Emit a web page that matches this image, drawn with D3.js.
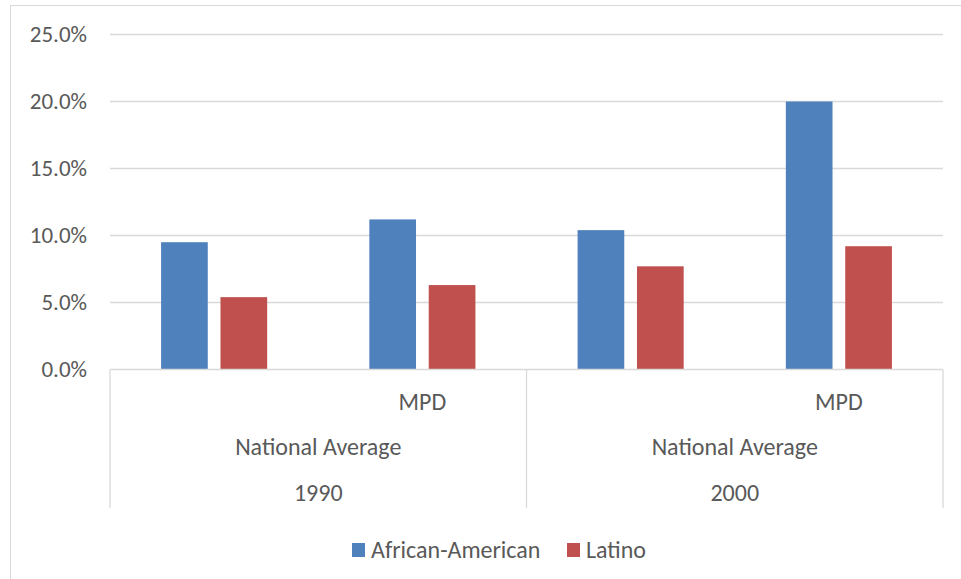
<!DOCTYPE html>
<html>
<head>
<meta charset="utf-8">
<script src="https://cdn.jsdelivr.net/npm/d3@7"></script>
<style>
  html, body { margin: 0; padding: 0; background: #fff; }
  svg { display: block; }
  text { font-family: Carlito, "Liberation Sans Narrow", "Open Sans", sans-serif; fill: #595959; }
</style>
</head>
<body>
<svg id="chart" width="961" height="579"></svg>
<script>
// ---- data ----
const categories = ["1990 National Average", "1990 MPD", "2000 National Average", "2000 MPD"];
const series = ["African-American", "Latino"];
const africanAmerican = [0.095, 0.112, 0.104, 0.200];
const latino = [0.054, 0.063, 0.077, 0.092];
const yTicks = [0, 0.05, 0.10, 0.15, 0.20, 0.25];
const subLabels = ["", "MPD", "", "MPD"];
const midLabels = ["National Average", "National Average"];
const years = ["1990", "2000"];
const colors = ["#4f81bd", "#c0504d"];

(function () {
const svg = d3.select("#chart");
const pLeft = 110, pRight = 943, pTop = 34.5, pBottom = 369.5;

// chart frame
svg.append("rect").attr("x", 10.5).attr("y", 5.5).attr("width", 960).attr("height", 600)
  .attr("fill", "#fff").attr("stroke", "#d9d9d9").attr("stroke-width", 1);

const y = d3.scaleLinear().domain([0, 0.25]).range([pBottom, pTop]);
const x0 = d3.scaleBand().domain(categories).range([pLeft, pRight]).paddingInner(0).paddingOuter(0);
const x1 = d3.scaleBand().domain(series).range([0, x0.bandwidth()]).paddingInner(0.214).paddingOuter(0.86);

// gridlines
const grid = svg.append("g");
grid.selectAll("line").data(yTicks.filter(d => d > 0)).join("line")
  .attr("x1", pLeft).attr("x2", pRight)
  .attr("y1", d => y(d)).attr("y2", d => y(d))
  .attr("stroke", "#d9d9d9").attr("stroke-width", 1.3);

// y axis labels
const yAxis = d3.axisLeft(y).tickValues(yTicks).tickFormat(d3.format(".1%")).tickSize(0).tickPadding(23);
const ya = svg.append("g").attr("transform", `translate(${pLeft},0)`).call(yAxis);
ya.select(".domain").remove();
ya.selectAll("text").attr("font-size", 23).style("fill", "#595959")
  .style("font-family", 'Carlito, "Liberation Sans Narrow", "Open Sans", sans-serif');

// bars
const valuesBySeries = [africanAmerican, latino];
const g = svg.append("g");
series.forEach((s, si) => {
  g.selectAll(".b" + si).data(valuesBySeries[si]).join("rect")
    .attr("class", "b" + si)
    .attr("x", (d, i) => x0(categories[i]) + x1(s))
    .attr("width", x1.bandwidth())
    .attr("y", d => y(d))
    .attr("height", d => y(0) - y(d))
    .attr("fill", colors[si]);
});

// category axis
const ax = svg.append("g").attr("stroke", "#d9d9d9").attr("stroke-width", 1.3);
ax.append("line").attr("x1", pLeft).attr("x2", pRight).attr("y1", pBottom).attr("y2", pBottom);
const dividers = [categories[0], categories[2]].map(c => x0(c)).concat([pRight]);
ax.selectAll(".div").data(dividers).join("line")
  .attr("x1", d => d).attr("x2", d => d).attr("y1", pBottom).attr("y2", 508);

svg.append("g").selectAll("text").data(subLabels).join("text")
  .attr("x", (d, i) => x0(categories[i]) + x0.bandwidth() / 2)
  .attr("y", 402).attr("dy", "0.35em").attr("text-anchor", "middle")
  .attr("font-size", 24).text(d => d);

svg.append("g").selectAll("text").data(midLabels).join("text")
  .attr("x", (d, i) => x0(categories[i * 2]) + x0.bandwidth())
  .attr("y", 447).attr("dy", "0.35em").attr("text-anchor", "middle")
  .attr("font-size", 24).text(d => d);

svg.append("g").selectAll("text").data(years).join("text")
  .attr("x", (d, i) => x0(categories[i * 2]) + x0.bandwidth())
  .attr("y", 493).attr("dy", "0.35em").attr("text-anchor", "middle")
  .attr("font-size", 24).text(d => d);

// legend
const legend = svg.append("g");
const legX = [352, 567];
series.forEach((s, i) => {
  legend.append("rect").attr("x", legX[i]).attr("y", 543).attr("width", 13).attr("height", 14).attr("fill", colors[i]);
  legend.append("text").attr("x", legX[i] + 19).attr("y", 550).attr("dy", "0.35em")
    .attr("font-size", 24).text(s);
});
})();
</script>
</body>
</html>
